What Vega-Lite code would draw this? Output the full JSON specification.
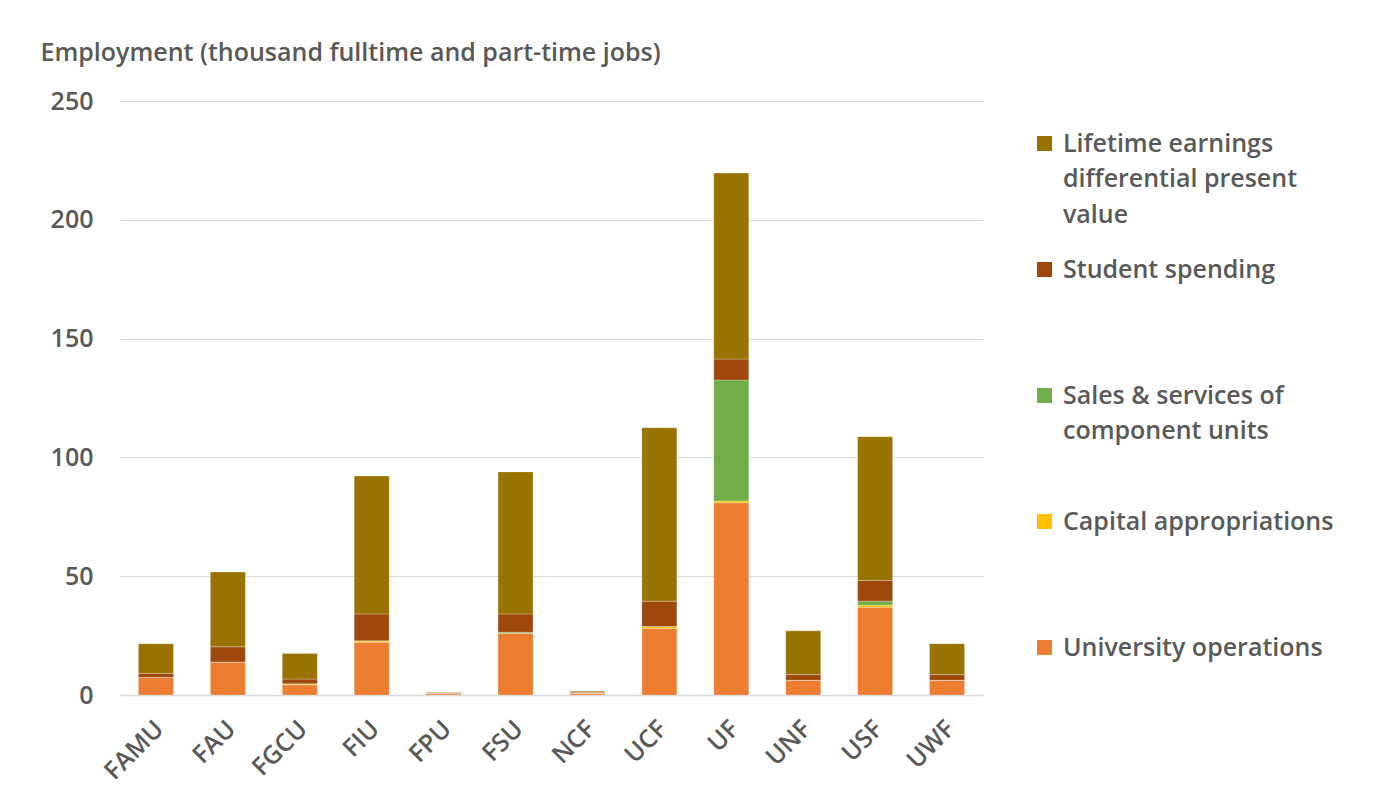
{
  "$schema": "https://vega.github.io/schema/vega-lite/v6.json",
  "autosize": {"type": "none"},
  "padding": {"left": 120, "top": 101, "right": 391, "bottom": 103},
  "width": 863,
  "height": 594,
  "background": "#ffffff",
  "data": {
    "values": [
      {"university": "FAMU", "University operations": 7.4, "Capital appropriations": 0, "Sales & services of component units": 0, "Student spending": 1.7, "Lifetime earnings differential present value": 12.5},
      {"university": "FAU", "University operations": 13.9, "Capital appropriations": 0, "Sales & services of component units": 0, "Student spending": 6.4, "Lifetime earnings differential present value": 31.5},
      {"university": "FGCU", "University operations": 4.3, "Capital appropriations": 0.4, "Sales & services of component units": 0, "Student spending": 2.0, "Lifetime earnings differential present value": 10.8},
      {"university": "FIU", "University operations": 22.2, "Capital appropriations": 0.6, "Sales & services of component units": 0, "Student spending": 11.3, "Lifetime earnings differential present value": 58.1},
      {"university": "FPU", "University operations": 0.6, "Capital appropriations": 0, "Sales & services of component units": 0, "Student spending": 0.2, "Lifetime earnings differential present value": 0.2},
      {"university": "FSU", "University operations": 26.0, "Capital appropriations": 0, "Sales & services of component units": 0.4, "Student spending": 7.7, "Lifetime earnings differential present value": 59.8},
      {"university": "NCF", "University operations": 0.8, "Capital appropriations": 0, "Sales & services of component units": 0, "Student spending": 0.2, "Lifetime earnings differential present value": 0.6},
      {"university": "UCF", "University operations": 28.0, "Capital appropriations": 0.8, "Sales & services of component units": 0, "Student spending": 10.7, "Lifetime earnings differential present value": 73.0},
      {"university": "UF", "University operations": 80.9, "Capital appropriations": 0.8, "Sales & services of component units": 50.9, "Student spending": 8.8, "Lifetime earnings differential present value": 78.3},
      {"university": "UNF", "University operations": 6.2, "Capital appropriations": 0, "Sales & services of component units": 0, "Student spending": 2.4, "Lifetime earnings differential present value": 18.4},
      {"university": "USF", "University operations": 36.9, "Capital appropriations": 0.9, "Sales & services of component units": 1.7, "Student spending": 8.7, "Lifetime earnings differential present value": 60.5},
      {"university": "UWF", "University operations": 6.2, "Capital appropriations": 0, "Sales & services of component units": 0, "Student spending": 2.4, "Lifetime earnings differential present value": 13.0}
    ]
  },
  "transform": [
    {"fold": ["University operations", "Capital appropriations", "Sales & services of component units", "Student spending", "Lifetime earnings differential present value"], "as": ["category", "value"]},
    {"calculate": "indexof(['University operations','Capital appropriations','Sales & services of component units','Student spending','Lifetime earnings differential present value'], datum.category)", "as": "stackOrder"}
  ],
  "mark": {"type": "bar", "stroke": "#ffffff", "strokeWidth": 0.5, "strokeOpacity": 0.5},
  "encoding": {
    "x": {
      "field": "university",
      "type": "nominal",
      "sort": null,
      "scale": {"paddingInner": 0.513, "paddingOuter": 0.2565},
      "axis": {
        "title": null,
        "labelAngle": -45,
        "labelFont": "Open Sans",
        "labelFontSize": 25,
        "labelFontWeight": 600,
        "labelColor": "#595959",
        "labelPadding": 21,
        "labelOffset": -5,
        "ticks": false,
        "domainColor": "#d9d9d9",
        "domainWidth": 1.5
      }
    },
    "y": {
      "field": "value",
      "type": "quantitative",
      "stack": "zero",
      "scale": {"domain": [0, 250]},
      "axis": {
        "values": [0, 50, 100, 150, 200, 250],
        "title": "Employment (thousand fulltime and part-time jobs)",
        "titleAngle": 0,
        "titleAlign": "left",
        "titleBaseline": "alphabetic",
        "titleX": -80,
        "titleY": -41,
        "titleFont": "Open Sans",
        "titleFontSize": 25,
        "titleFontWeight": 600,
        "titleColor": "#595959",
        "labelFont": "Open Sans",
        "labelFontSize": 25,
        "labelFontWeight": 600,
        "labelColor": "#595959",
        "labelPadding": 27,
        "ticks": false,
        "domain": false,
        "gridColor": "#d9d9d9",
        "gridWidth": 1.2
      }
    },
    "color": {
      "field": "category",
      "type": "nominal",
      "scale": {
        "domain": ["Lifetime earnings differential present value", "Student spending", "Sales & services of component units", "Capital appropriations", "University operations"],
        "range": ["#997300", "#9e480e", "#70ad47", "#ffc000", "#ed7d31"]
      },
      "legend": {
        "title": null,
        "orient": "none",
        "legendX": 912,
        "legendY": 30,
        "symbolType": "square",
        "symbolSize": 225,
        "symbolStrokeWidth": 0,
        "labelFont": "Open Sans",
        "labelFontSize": 25,
        "labelFontWeight": 600,
        "labelColor": "#595959",
        "labelOffset": 6,
        "labelLimit": 400,
        "labelBaseline": "middle",
        "rowPadding": 29,
        "labelExpr": "datum.label == 'Lifetime earnings differential present value' ? ['Lifetime earnings', 'differential present', 'value'] : datum.label == 'Sales & services of component units' ? ['Sales & services of', 'component units', '\u00a0'] : [datum.label, '\u00a0', '\u00a0']"
      }
    },
    "order": {"field": "stackOrder", "type": "quantitative"}
  },
  "config": {
    "view": {"stroke": null},
    "style": {"guide-label": {"lineHeight": 35.5}}
  }
}
